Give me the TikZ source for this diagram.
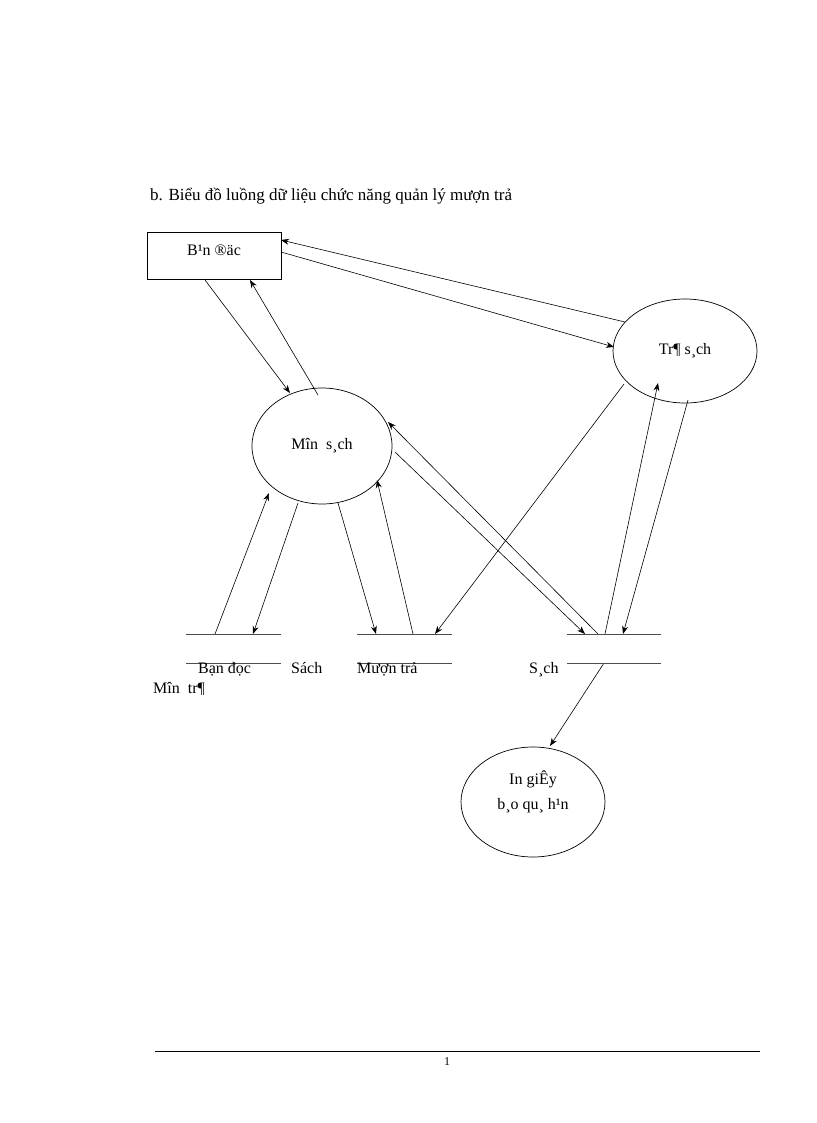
\documentclass[tikz,border=0pt]{standalone}
\usepackage{fontspec}
\setmainfont{Liberation Serif}
\usetikzlibrary{arrows.meta}
\begin{document}
\begin{tikzpicture}[x=1pt,y=-1pt,font=\fontsize{16}{19}\selectfont,
 flow/.style={-{Stealth[length=8pt,width=6pt]},line width=0.6pt},
 proc/.style={draw,line width=0.7pt},
 st/.style={line width=0.9pt,draw=black!70}]
\useasboundingbox (0,0) rectangle (816,1123);
\node[anchor=base west,font=\fontsize{17}{20}\selectfont,inner sep=0] (title) at (150,201) {b. Biểu đồ luồng dữ liệu chức năng quản lý mượn trả};
\node[draw,minimum width=134,minimum height=47,inner sep=0,line width=0.7pt] (bd) at (214,256) {};
\node at (214,250) {B¹n ®äc};
\draw[proc] (685,351) ellipse [x radius=72,y radius=52];
\node (tra) at (685,351) {Tr¶ s¸ch};
\draw[proc] (322,446) ellipse [x radius=70,y radius=58];
\node (muon) at (322,446) {M­în\ \ s¸ch};
\draw[proc] (533,802) ellipse [x radius=72,y radius=55];
\node[align=center,font=\fontsize{16}{25}\selectfont] (ing) at (533,792) {In giÊy\\b¸o qu¸ h¹n};
\coordinate (a1) at (625,322); \coordinate (a2) at (281,240);
\draw[flow] (a1) -- (a2);
\coordinate (b1) at (281,252); \coordinate (b2) at (614,347);
\draw[flow] (b1) -- (b2);
\coordinate (c1) at (205,280); \coordinate (c2) at (290,393);
\draw[flow] (c1) -- (c2);
\coordinate (d1) at (318,395); \coordinate (d2) at (250,280);
\draw[flow] (d1) -- (d2);
\coordinate (e1) at (298,503); \coordinate (e2) at (253,634);
\draw[flow] (e1) -- (e2);
\coordinate (f1) at (215,634); \coordinate (f2) at (269,493);
\draw[flow] (f1) -- (f2);
\coordinate (g1) at (338,503); \coordinate (g2) at (376,634);
\draw[flow] (g1) -- (g2);
\coordinate (h1) at (413,634); \coordinate (h2) at (377,480);
\draw[flow] (h1) -- (h2);
\coordinate (i1) at (624,384); \coordinate (i2) at (435,634);
\draw[flow] (i1) -- (i2);
\coordinate (j1) at (395,452); \coordinate (j2) at (585,634);
\draw[flow] (j1) -- (j2);
\coordinate (k1) at (598,634); \coordinate (k2) at (388,422);
\draw[flow] (k1) -- (k2);
\coordinate (l1) at (605,634); \coordinate (l2) at (658,383);
\draw[flow] (l1) -- (l2);
\coordinate (m1) at (688,400); \coordinate (m2) at (623,634);
\draw[flow] (m1) -- (m2);
\coordinate (n1) at (604,663); \coordinate (n2) at (550,746);
\draw[flow] (n1) -- (n2);
\draw[st] (186,634) -- (281,634); \draw[st] (186,663) -- (281,663);
\draw[st] (357,634) -- (452,634); \draw[st] (357,663) -- (452,663);
\draw[st] (567,634) -- (661,634); \draw[st] (567,663) -- (661,663);
\node[anchor=base west,inner sep=0] (t1) at (198,673) {Bạn đọc};
\node[anchor=base west,inner sep=0] (t2) at (291,673) {Sách};
\node[anchor=base west,inner sep=0] (t3) at (357,673) {Mượn trả};
\node[anchor=base west,inner sep=0] (t4) at (529,673) {S¸ch};
\node[anchor=base west,inner sep=0] (t5) at (153,693) {M­în\ \ tr¶};
\draw[line width=1pt] (155,1051) -- (760,1051);
\node[font=\fontsize{12}{14}\selectfont] (pg) at (447,1062) {1};
\end{tikzpicture}
\end{document}
